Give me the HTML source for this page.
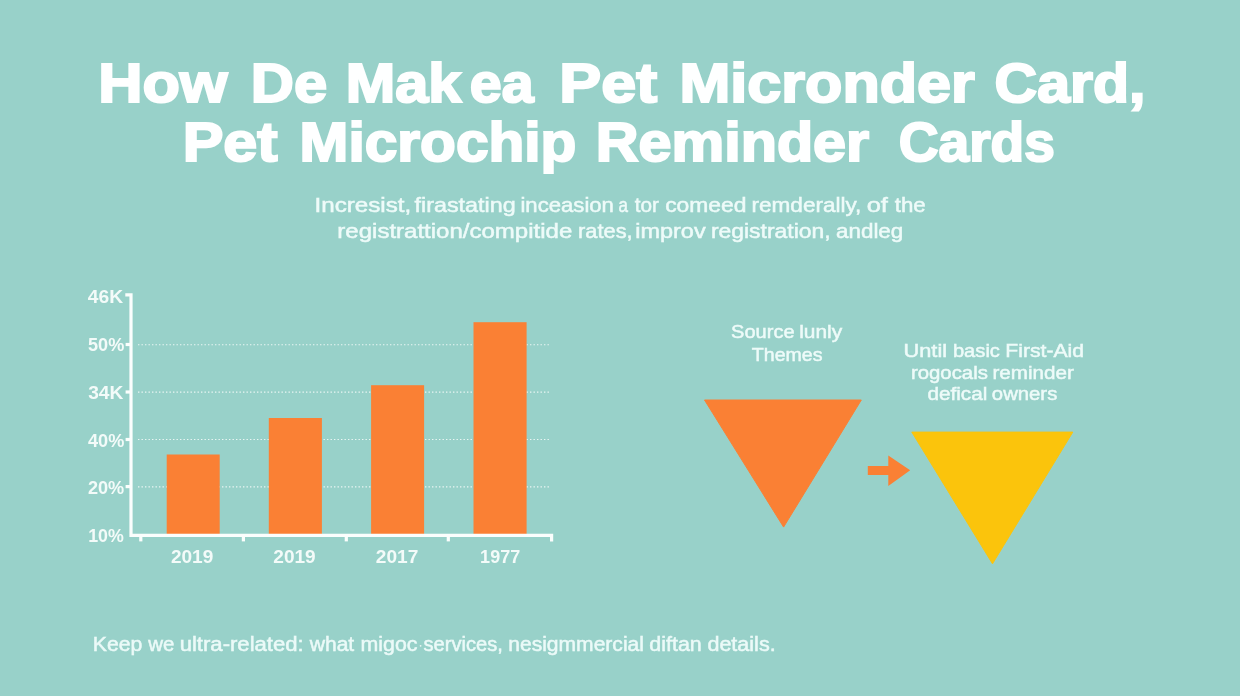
<!DOCTYPE html>
<html lang="en">
<head>
<meta charset="utf-8">
<title>Pet Microchip Reminder Cards</title>
<style>
html,body{margin:0;padding:0;background:#98D1C9;}
body{width:1240px;height:696px;overflow:hidden;font-family:"Liberation Sans",sans-serif;}
svg{display:block;width:1240px;height:696px;}
text{font-family:"Liberation Sans",sans-serif;fill:#fff;white-space:pre;}
.t text{font-weight:bold;fill:#feffff;stroke:#feffff;stroke-width:2.1px;}
.s text{fill:#eefbf9;stroke:#eefbf9;stroke-width:.5px;}
.f text{fill:#ebfaf8;stroke:#ebfaf8;stroke-width:.5px;}
.l text{font-weight:bold;fill:#f3fbf9;}
.grid line{stroke:#fff;stroke-opacity:.8;stroke-width:1.15;stroke-dasharray:1.4 2.1;}
.ax path{fill:none;stroke:#fbfefd;stroke-width:3.2;stroke-linejoin:miter;}
</style>
</head>
<body>
<svg width="1240" height="696" viewBox="0 0 1240 696">
<defs>
<filter id="sf" x="-2%" y="-20%" width="104%" height="140%"><feGaussianBlur stdDeviation="0.35"/></filter>
<filter id="tf" x="-2%" y="-20%" width="104%" height="140%"><feGaussianBlur stdDeviation="0.5"/></filter>
</defs>
<rect width="1240" height="696" fill="#98D1C9"/>
<g class="t" filter="url(#tf)">
<text x="98.15" y="102.45" font-size="56" textLength="129.39" lengthAdjust="spacingAndGlyphs">How</text>
<text x="250.75" y="102.45" font-size="56" textLength="76.43" lengthAdjust="spacingAndGlyphs">De</text>
<text x="345.77" y="102.45" font-size="56" textLength="115.61" lengthAdjust="spacingAndGlyphs">Mak</text>
<text x="469.81" y="102.45" font-size="56" textLength="63.80" lengthAdjust="spacingAndGlyphs">ea</text>
<text x="559.34" y="102.45" font-size="56" textLength="97.83" lengthAdjust="spacingAndGlyphs">Pet</text>
<text x="679.46" y="102.45" font-size="56" textLength="295.40" lengthAdjust="spacingAndGlyphs">Micronder</text>
<text x="994.61" y="102.45" font-size="56" textLength="150.81" lengthAdjust="spacingAndGlyphs">Card,</text>
<text x="182.66" y="160.75" font-size="56" textLength="94.99" lengthAdjust="spacingAndGlyphs">Pet</text>
<text x="299.63" y="160.75" font-size="56" textLength="276.71" lengthAdjust="spacingAndGlyphs">Microchip</text>
<text x="595.78" y="160.75" font-size="56" textLength="273.37" lengthAdjust="spacingAndGlyphs">Reminder</text>
<text x="898.78" y="160.75" font-size="56" textLength="156.13" lengthAdjust="spacingAndGlyphs">Cards</text>
</g>
<g class="s" filter="url(#sf)">
<text x="314.53" y="211.70" font-size="20.4" textLength="96.70" lengthAdjust="spacingAndGlyphs">Incresist,</text>
<text x="414.59" y="211.70" font-size="20.4" textLength="101.09" lengthAdjust="spacingAndGlyphs">firastating</text>
<text x="520.46" y="211.70" font-size="20.4" textLength="93.44" lengthAdjust="spacingAndGlyphs">inceasion</text>
<text x="618.42" y="211.70" font-size="20.4" textLength="9.45" lengthAdjust="spacingAndGlyphs">a</text>
<text x="634.73" y="211.70" font-size="20.4" textLength="24.16" lengthAdjust="spacingAndGlyphs">tor</text>
<text x="665.17" y="211.70" font-size="20.4" textLength="81.24" lengthAdjust="spacingAndGlyphs">comeed</text>
<text x="751.53" y="211.70" font-size="20.4" textLength="109.84" lengthAdjust="spacingAndGlyphs">remderally,</text>
<text x="866.65" y="211.70" font-size="20.4" textLength="21.29" lengthAdjust="spacingAndGlyphs">of</text>
<text x="894.71" y="211.70" font-size="20.4" textLength="31.01" lengthAdjust="spacingAndGlyphs">the</text>
<text x="337.33" y="237.90" font-size="20.4" textLength="234.96" lengthAdjust="spacingAndGlyphs">registrattion/compitide</text>
<text x="578.08" y="237.90" font-size="20.4" textLength="54.53" lengthAdjust="spacingAndGlyphs">rates,</text>
<text x="635.27" y="237.90" font-size="20.4" textLength="70.37" lengthAdjust="spacingAndGlyphs">improv</text>
<text x="710.90" y="237.90" font-size="20.4" textLength="119.70" lengthAdjust="spacingAndGlyphs">registration,</text>
<text x="835.99" y="237.90" font-size="20.4" textLength="67.31" lengthAdjust="spacingAndGlyphs">andleg</text>
</g>
<g class="grid">
<line x1="138" y1="344.7" x2="549.5" y2="344.7"/>
<line x1="138" y1="392.1" x2="549.5" y2="392.1"/>
<line x1="138" y1="439.5" x2="549.5" y2="439.5"/>
<line x1="138" y1="486.9" x2="549.5" y2="486.9"/>
</g>
<g fill="#FA8034">
<rect x="166.7" y="454.5" width="53.0" height="79.7"/>
<rect x="268.8" y="418" width="53.1" height="116.2"/>
<rect x="371.1" y="385.2" width="53.0" height="149.0"/>
<rect x="473.5" y="322.2" width="53.1" height="212.0"/>
</g>
<g class="ax">
<path d="M125.3 294.9 H131 V535.4 H551.6 V541.4"/>
<path d="M125.6 344.5 H131"/>
<path d="M125.6 392 H131"/>
<path d="M125.6 439.5 H131"/>
<path d="M125.6 486.6 H131"/>
<path d="M140.8 535.4 V541.4"/>
<path d="M243.4 535.4 V541.4"/>
<path d="M346.3 535.4 V541.4"/>
<path d="M448.3 535.4 V541.4"/>
</g>
<g class="l" filter="url(#sf)">
<text x="87.72" y="302.70" font-size="17.5" textLength="35.33" lengthAdjust="spacingAndGlyphs">46K</text>
<text x="88.02" y="351.00" font-size="17.5" textLength="36.26" lengthAdjust="spacingAndGlyphs">50%</text>
<text x="88.19" y="398.60" font-size="17.5" textLength="35.26" lengthAdjust="spacingAndGlyphs">34K</text>
<text x="87.94" y="446.60" font-size="17.5" textLength="36.34" lengthAdjust="spacingAndGlyphs">40%</text>
<text x="87.95" y="494.20" font-size="17.5" textLength="36.33" lengthAdjust="spacingAndGlyphs">20%</text>
<text x="88.16" y="542.00" font-size="17.5" textLength="35.61" lengthAdjust="spacingAndGlyphs">10%</text>
<text x="170.92" y="562.80" font-size="17.5" textLength="42.42" lengthAdjust="spacingAndGlyphs">2019</text>
<text x="273.32" y="562.80" font-size="17.5" textLength="42.42" lengthAdjust="spacingAndGlyphs">2019</text>
<text x="375.82" y="562.80" font-size="17.5" textLength="42.49" lengthAdjust="spacingAndGlyphs">2017</text>
<text x="480.14" y="562.80" font-size="17.5" textLength="40.02" lengthAdjust="spacingAndGlyphs">1977</text>
</g>
<path d="M704.5 400 H861.3 L783.6 527.1 Z" fill="#FA8034" stroke="#FA8034" stroke-width="1" stroke-linejoin="round"/>
<path d="M911.8 432.1 H1072.8 L992.5 563.8 Z" fill="#FBC40C" stroke="#FBC40C" stroke-width="1" stroke-linejoin="round"/>
<path d="M867.8 466 H888.3 V455.4 L910.2 470.3 L888.3 486 V475 H867.8 Z" fill="#FA8034"/>
<g class="s" filter="url(#sf)">
<text x="731.13" y="338.20" font-size="19" textLength="63.39" lengthAdjust="spacingAndGlyphs">Source</text>
<text x="799.18" y="338.20" font-size="19" textLength="42.96" lengthAdjust="spacingAndGlyphs">lunly</text>
<text x="751.80" y="360.80" font-size="19" textLength="70.77" lengthAdjust="spacingAndGlyphs">Themes</text>
<text x="903.50" y="357.10" font-size="19" textLength="43.60" lengthAdjust="spacingAndGlyphs">Until</text>
<text x="952.92" y="357.10" font-size="19" textLength="47.04" lengthAdjust="spacingAndGlyphs">basic</text>
<text x="1005.31" y="357.10" font-size="19" textLength="78.73" lengthAdjust="spacingAndGlyphs">First-Aid</text>
<text x="910.91" y="378.50" font-size="19" textLength="76.98" lengthAdjust="spacingAndGlyphs">rogocals</text>
<text x="992.49" y="378.50" font-size="19" textLength="81.33" lengthAdjust="spacingAndGlyphs">reminder</text>
<text x="927.46" y="400.30" font-size="19" textLength="59.90" lengthAdjust="spacingAndGlyphs">defical</text>
<text x="991.88" y="400.30" font-size="19" textLength="65.40" lengthAdjust="spacingAndGlyphs">owners</text>
</g>
<g class="f" filter="url(#sf)">
<text x="92.78" y="650.50" font-size="20" textLength="49.51" lengthAdjust="spacingAndGlyphs">Keep</text>
<text x="148.30" y="650.50" font-size="20" textLength="26.10" lengthAdjust="spacingAndGlyphs">we</text>
<text x="179.65" y="650.50" font-size="20" textLength="124.11" lengthAdjust="spacingAndGlyphs">ultra-related:</text>
<text x="309.70" y="650.50" font-size="20" textLength="44.53" lengthAdjust="spacingAndGlyphs">what</text>
<text x="360.60" y="650.50" font-size="20" textLength="56.91" lengthAdjust="spacingAndGlyphs">migoc</text>
<text x="423.54" y="650.50" font-size="20" textLength="79.25" lengthAdjust="spacingAndGlyphs">services,</text>
<text x="508.22" y="650.50" font-size="20" textLength="135.75" lengthAdjust="spacingAndGlyphs">nesigmmercial</text>
<text x="649.33" y="650.50" font-size="20" textLength="52.47" lengthAdjust="spacingAndGlyphs">diftan</text>
<text x="707.43" y="650.50" font-size="20" textLength="68.22" lengthAdjust="spacingAndGlyphs">details.</text>
<circle cx="420.6" cy="645.8" r="0.9" fill="#fff" fill-opacity=".8"/>
</g>
</svg>
</body>
</html>
